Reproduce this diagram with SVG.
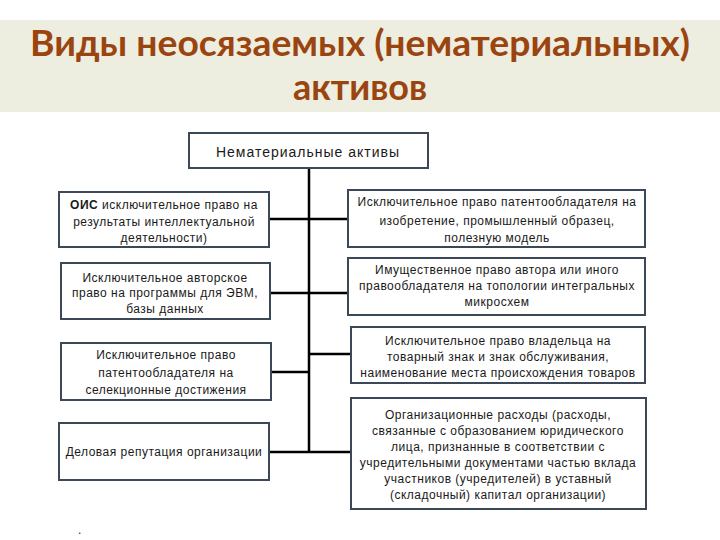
<svg xmlns="http://www.w3.org/2000/svg" width="720" height="540" viewBox="0 0 720 540">
<style>
.box{fill:#ffffff;stroke:#3b4858;stroke-width:2}
.t{font-family:"Liberation Sans",Arial,sans-serif;font-size:12px;letter-spacing:0.5px;fill:#1a1a1a;text-anchor:middle}
.title{font-family:Lato,"Open Sans",sans-serif;font-weight:bold;font-size:36px;fill:#9a4510;text-anchor:middle}
.c{stroke:#000;stroke-width:2.5;fill:none}
</style>
<rect x="0" y="0" width="720" height="540" fill="#ffffff"/>
<rect x="0" y="20" width="720" height="92" fill="#edede0"/>
<g id="title">
<text class="title" x="360" y="56" textLength="660" lengthAdjust="spacingAndGlyphs">Виды неосязаемых (нематериальных)</text>
<text class="title" x="360" y="100">активов</text>
</g>
<g id="connectors">
<line class="c" x1="309" y1="168" x2="309" y2="453"/>
<line class="c" x1="269" y1="219" x2="348" y2="219"/>
<line class="c" x1="270" y1="293" x2="348" y2="293"/>
<line class="c" x1="271" y1="372" x2="309" y2="372"/>
<line class="c" x1="309" y1="354" x2="351" y2="354"/>
<line class="c" x1="269" y1="452" x2="351" y2="452"/>
</g>
<g id="root">
<rect class="box" x="189" y="133" width="239" height="35"/>
<text class="t" x="308" y="157" style="font-size:14px;letter-spacing:1px">Нематериальные активы</text>
</g>
<g id="l1">
<rect class="box" x="59" y="192" width="210" height="55"/>
<text class="t" x="164" y="209"><tspan font-weight="bold">ОИС</tspan>  исключительное право на</text>
<text class="t" x="164" y="226">результаты интеллектуальной</text>
<text class="t" x="164" y="242">деятельности)</text>
</g>
<g id="l2">
<rect class="box" x="61" y="263" width="209" height="56"/>
<text class="t" x="165" y="282">Исключительное авторское</text>
<text class="t" x="165" y="297">право на программы для ЭВМ,</text>
<text class="t" x="165" y="313">базы данных</text>
</g>
<g id="l3">
<rect class="box" x="61" y="343" width="210" height="57"/>
<text class="t" x="166" y="359">Исключительное право</text>
<text class="t" x="166" y="377">патентообладателя на</text>
<text class="t" x="166" y="394">селекционные достижения</text>
</g>
<g id="l4">
<rect class="box" x="59" y="423" width="210" height="57"/>
<text class="t" x="164" y="456">Деловая репутация организации</text>
</g>
<g id="r1">
<rect class="box" x="348" y="190" width="297" height="57"/>
<text class="t" x="497" y="206">Исключительное право патентообладателя на</text>
<text class="t" x="497" y="225">изобретение, промышленный образец,</text>
<text class="t" x="497" y="242">полезную модель</text>
</g>
<g id="r2">
<rect class="box" x="348" y="258" width="297" height="57"/>
<text class="t" x="497" y="274">Имущественное право автора или иного</text>
<text class="t" x="497" y="290">правообладателя на топологии интегральных</text>
<text class="t" x="497" y="306">микросхем</text>
</g>
<g id="r3">
<rect class="box" x="351" y="327" width="294" height="56"/>
<text class="t" x="498" y="345">Исключительное право владельца на</text>
<text class="t" x="498" y="361">товарный знак и знак обслуживания,</text>
<text class="t" x="498" y="377">наименование места происхождения товаров</text>
</g>
<g id="r4">
<rect class="box" x="351" y="398" width="295" height="111"/>
<text class="t" x="498" y="419">Организационные расходы (расходы,</text>
<text class="t" x="498" y="435">связанные с образованием юридического</text>
<text class="t" x="498" y="451">лица, признанные в соответствии с</text>
<text class="t" x="498" y="467">учредительными документами частью вклада</text>
<text class="t" x="498" y="483">участников (учредителей) в уставный</text>
<text class="t" x="498" y="499">(складочный) капитал организации)</text>
</g>
<text class="t" x="80" y="534">.</text>
</svg>
